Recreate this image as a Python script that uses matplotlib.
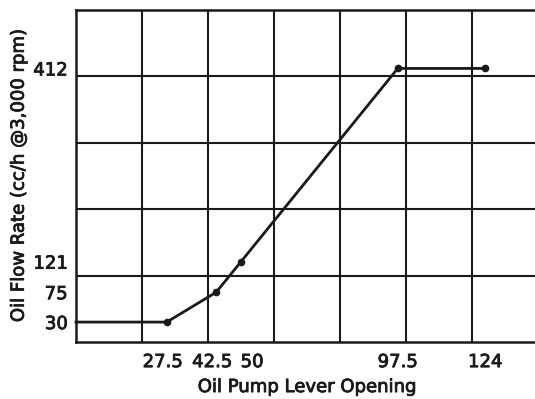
import matplotlib
matplotlib.use("Agg")
import matplotlib.pyplot as plt
import matplotlib.transforms as mtransforms
import matplotlib.patheffects as pe

# lever opening vs oil flow rate (first point is the flat run from closed)
lever_opening = [0, 27.5, 42.5, 50, 97.5, 124]
flow_rate = [30, 30, 75, 121, 412, 412]

x_ticks = [27.5, 42.5, 50, 97.5, 124]
x_labels = ["27.5", "42.5", "50", "97.5", "124"]
y_ticks = [30, 75, 121, 412]
y_labels = ["30", "75", "121", "412"]

INK = "#1a1a1a"
plt.rcParams["font.family"] = ["DejaVu Sans"]
heavy = [pe.withStroke(linewidth=0.6, foreground=INK)]

fig = plt.figure(figsize=(5.35, 3.99), dpi=100)
ax = fig.add_axes([76 / 535, 57 / 399, 462 / 535, 332 / 399])

ax.set_xlim(0, 140)
ax.set_ylim(0, 500)

# background grid, independent of the data ticks
for gx in range(20, 140, 20):
    ax.axvline(gx, color=INK, lw=1.5, zorder=1)
for gy in range(100, 500, 100):
    ax.axhline(gy, color=INK, lw=1.5, zorder=1)
for sp in ax.spines.values():
    sp.set_color(INK)
    sp.set_linewidth(1.8)

ax.plot(lever_opening, flow_rate, color=INK, lw=2.0, marker="o",
        markersize=4.5, markevery=[1, 2, 3, 4, 5], zorder=3, clip_on=False)

ax.set_xticks(x_ticks)
ax.set_xticklabels(x_labels)
ax.set_yticks(y_ticks)
ax.set_yticklabels(y_labels)
ax.tick_params(length=0, labelsize=13, colors=INK, pad=8)
ax.tick_params(axis="y", pad=6)

# nudge the crowded x labels apart a little
nudges = {"27.5": -4, "42.5": -4, "50": 11}
for lbl in ax.get_xticklabels():
    dx = nudges.get(lbl.get_text(), 0)
    if dx:
        lbl.set_transform(lbl.get_transform() + mtransforms.ScaledTranslation(dx / 100, 0, fig.dpi_scale_trans))
for lbl in ax.get_xticklabels() + ax.get_yticklabels():
    lbl.set_path_effects(heavy)

ax.set_xlabel("Oil Pump Lever Opening", fontsize=13, color=INK, labelpad=5, path_effects=heavy)
ax.set_ylabel("Oil Flow Rate (cc/h @3,000 rpm)", fontsize=13, color=INK, labelpad=4, path_effects=heavy)

fig.savefig("out.png", dpi=100)
